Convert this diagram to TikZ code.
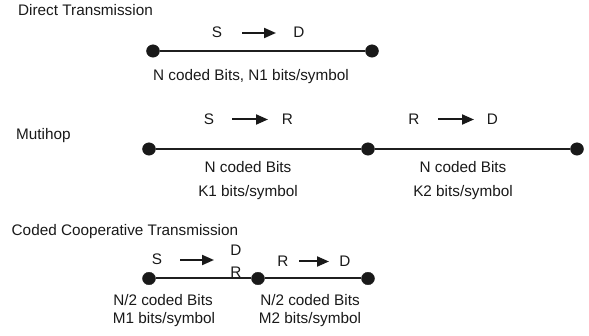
\documentclass[tikz,border=0pt]{standalone}
\usepackage{fontspec}
\setmainfont{Liberation Sans}
\usetikzlibrary{arrows.meta,shapes.geometric}
\begin{document}
\begin{tikzpicture}[x=1pt,y=-1pt,
  txt/.style={inner sep=0pt,anchor=base,font=\fontsize{15.3pt}{18pt}\selectfont,text=black!90},
  ttl/.style={txt,anchor=base west},
  dot/.style={ellipse,fill=black!90,draw=black!90,inner sep=0pt,minimum width=13pt,minimum height=12.5pt},
  link/.style={line width=2pt,draw=black!88},
  arr/.style={line width=2pt,draw=black!90,-{Triangle[length=12pt,width=10pt]}}]
\useasboundingbox (0,0) rectangle (589,336);
% Direct transmission
\node[ttl] (t1) at (18,16) {Direct Transmission};
\node[dot] (d1a) at (153,51) {};
\node[dot] (d1b) at (372,51) {};
\draw[link] (d1a) -- (d1b);
\node[txt] (s1) at (217,38) {S};
\node[txt] (e1) at (299,38) {D};
\coordinate (a1s) at (242,33);
\coordinate (a1e) at (276,33);
\draw[arr] (a1s) -- (a1e);
\node[txt] (l1) at (251,81) {N coded Bits, N1 bits/symbol};
% Multihop
\node[ttl] (t2) at (16,140) {Mutihop};
\node[dot] (d2a) at (149,149) {};
\node[dot] (d2b) at (368,149) {};
\node[dot] (d2c) at (577,149) {};
\draw[link] (d2a) -- (d2b);
\draw[link] (d2b) -- (d2c);
\node[txt] (s2) at (209,124.5) {S};
\node[txt] (r2) at (287.5,124.5) {R};
\coordinate (a2s) at (232,119.5);
\coordinate (a2e) at (268,119.5);
\draw[arr] (a2s) -- (a2e);
\node[txt] (r3) at (414,124.5) {R};
\node[txt] (e3) at (492.5,124.5) {D};
\coordinate (a3s) at (438,119.5);
\coordinate (a3e) at (474,119.5);
\draw[arr] (a3s) -- (a3e);
\node[txt] (l2a) at (248,172.5) {N coded Bits};
\node[txt] (l2b) at (248,196.5) {K1 bits/symbol};
\node[txt] (l3a) at (463,172.5) {N coded Bits};
\node[txt] (l3b) at (463,196.5) {K2 bits/symbol};
% Coded cooperative
\node[ttl] (t3) at (11.5,236) {Coded Cooperative Transmission};
\node[dot] (d3a) at (149,278.5) {};
\node[dot] (d3b) at (258,278.5) {};
\node[dot] (d3c) at (368,278.5) {};
\draw[link] (d3a) -- (d3b);
\draw[link] (d3b) -- (d3c);
\node[txt] (s4) at (157,265) {S};
\node[txt] (e4) at (236,255.5) {D};
\node[txt] (r4) at (236,277.5) {R};
\coordinate (a4s) at (180,260);
\coordinate (a4e) at (214,260);
\draw[arr] (a4s) -- (a4e);
\node[txt] (r5) at (283,266.5) {R};
\node[txt] (e5) at (345,266.5) {D};
\coordinate (a5s) at (299,261.5);
\coordinate (a5e) at (329,261.5);
\draw[arr] (a5s) -- (a5e);
\node[txt] (l4a) at (163,305.5) {N/2 coded Bits};
\node[txt] (l4b) at (164,323.5) {M1 bits/symbol};
\node[txt] (l5a) at (310,305.5) {N/2 coded Bits};
\node[txt] (l5b) at (310,323.5) {M2 bits/symbol};
\end{tikzpicture}
\end{document}
